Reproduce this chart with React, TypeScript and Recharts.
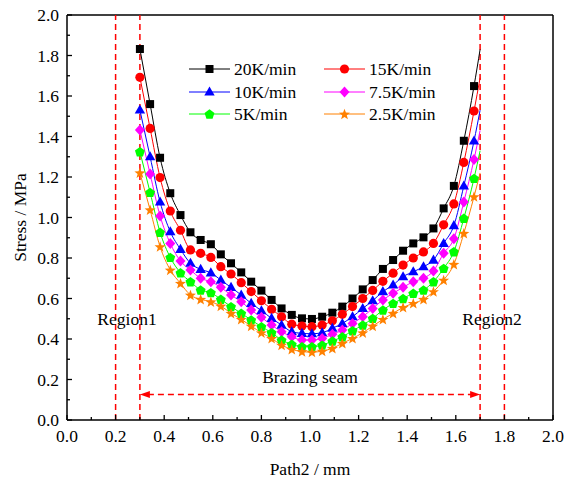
import React from 'react';
import { LineChart, Line, XAxis, YAxis, ReferenceLine, ReferenceDot, Legend, Label } from 'recharts';

const pathX = [0.3, 0.342, 0.383, 0.425, 0.467, 0.508, 0.55, 0.592, 0.633, 0.675, 0.717, 0.758, 0.8, 0.842, 0.883, 0.925, 0.967, 1.008, 1.05, 1.092, 1.133, 1.175, 1.217, 1.258, 1.3, 1.342, 1.383, 1.425, 1.467, 1.508, 1.55, 1.592, 1.633, 1.675, 1.7];

const s20 = [1.832, 1.56, 1.295, 1.12, 1.012, 0.927, 0.889, 0.868, 0.818, 0.774, 0.729, 0.683, 0.639, 0.593, 0.551, 0.519, 0.502, 0.499, 0.51, 0.53, 0.56, 0.6, 0.645, 0.691, 0.746, 0.79, 0.836, 0.872, 0.902, 0.946, 1.045, 1.156, 1.379, 1.649, 1.83];
const s15 = [1.692, 1.44, 1.197, 1.032, 0.937, 0.84, 0.823, 0.803, 0.757, 0.721, 0.678, 0.634, 0.589, 0.547, 0.51, 0.473, 0.464, 0.461, 0.469, 0.49, 0.522, 0.56, 0.6, 0.64, 0.685, 0.725, 0.765, 0.8, 0.83, 0.872, 0.964, 1.067, 1.272, 1.526, 1.69];
const s10 = [1.531, 1.3, 1.077, 0.93, 0.843, 0.774, 0.744, 0.727, 0.691, 0.655, 0.617, 0.576, 0.54, 0.502, 0.469, 0.436, 0.428, 0.426, 0.431, 0.453, 0.477, 0.51, 0.551, 0.589, 0.634, 0.667, 0.708, 0.732, 0.757, 0.79, 0.872, 0.96, 1.156, 1.378, 1.53];
const s75 = [1.432, 1.215, 1.008, 0.872, 0.785, 0.741, 0.7, 0.683, 0.655, 0.617, 0.584, 0.543, 0.507, 0.469, 0.436, 0.411, 0.395, 0.395, 0.403, 0.423, 0.444, 0.477, 0.51, 0.551, 0.593, 0.626, 0.655, 0.683, 0.7, 0.736, 0.823, 0.895, 1.077, 1.287, 1.43];
const s5 = [1.325, 1.124, 0.927, 0.803, 0.727, 0.683, 0.642, 0.629, 0.596, 0.56, 0.527, 0.494, 0.461, 0.431, 0.395, 0.374, 0.362, 0.362, 0.37, 0.39, 0.411, 0.441, 0.469, 0.502, 0.543, 0.576, 0.6, 0.626, 0.642, 0.683, 0.749, 0.831, 0.996, 1.193, 1.33];
const s25 = [1.221, 1.038, 0.856, 0.741, 0.675, 0.617, 0.596, 0.584, 0.563, 0.527, 0.497, 0.464, 0.431, 0.403, 0.37, 0.349, 0.338, 0.335, 0.34, 0.354, 0.379, 0.403, 0.431, 0.464, 0.497, 0.527, 0.556, 0.576, 0.596, 0.634, 0.691, 0.769, 0.922, 1.103, 1.22];

const seriesNames = ['20K/min', '15K/min', '10K/min', '7.5K/min', '5K/min', '2.5K/min'];
const xTicks = [0, 0.1, 0.2, 0.3, 0.4, 0.5, 0.6, 0.7, 0.8, 0.9, 1.0, 1.1, 1.2, 1.3, 1.4, 1.5, 1.6, 1.7, 1.8, 1.9, 2.0];
const yTicks = [0, 0.1, 0.2, 0.3, 0.4, 0.5, 0.6, 0.7, 0.8, 0.9, 1.0, 1.1, 1.2, 1.3, 1.4, 1.5, 1.6, 1.7, 1.8, 1.9, 2.0];
const regionLines = [0.2, 0.3, 1.7, 1.8];

const FONT = '"Liberation Serif", "Times New Roman", serif';
const FS = 17.5;

const SERIES = [
  { key: 's20', name: seriesNames[0], color: '#000000', shape: 'square', values: s20 },
  { key: 's15', name: seriesNames[1], color: '#ff0000', shape: 'circle', values: s15 },
  { key: 's10', name: seriesNames[2], color: '#0000ff', shape: 'triangle', values: s10 },
  { key: 's75', name: seriesNames[3], color: '#ff00ff', shape: 'diamond', values: s75 },
  { key: 's5', name: seriesNames[4], color: '#00ff00', shape: 'pentagon', values: s5 },
  { key: 's25', name: seriesNames[5], color: '#ff8000', shape: 'star', values: s25 },
];

const data = pathX.map((x, i) => {
  const row: any = { x };
  SERIES.forEach((s) => { row[s.key] = s.values[i]; });
  return row;
});

function polyPoints(cx: number, cy: number, n: number, rOuter: number, rInner?: number) {
  const pts: string[] = [];
  const total = rInner ? n * 2 : n;
  for (let i = 0; i < total; i++) {
    const r = rInner ? (i % 2 === 0 ? rOuter : rInner) : rOuter;
    const a = -Math.PI / 2 + (i * 2 * Math.PI) / total;
    pts.push(`${cx + r * Math.cos(a)},${cy + r * Math.sin(a)}`);
  }
  return pts.join(' ');
}

function Marker({ cx, cy, shape, color }: { cx: number; cy: number; shape: string; color: string }) {
  switch (shape) {
    case 'square':
      return <rect x={cx - 4} y={cy - 4} width={8} height={8} fill={color} />;
    case 'circle':
      return <circle cx={cx} cy={cy} r={4.6} fill={color} />;
    case 'triangle':
      return <polygon points={`${cx},${cy - 5.5} ${cx + 5.2},${cy + 3.6} ${cx - 5.2},${cy + 3.6}`} fill={color} />;
    case 'diamond':
      return <polygon points={`${cx},${cy - 5.5} ${cx + 5},${cy} ${cx},${cy + 5.5} ${cx - 5},${cy}`} fill={color} />;
    case 'pentagon':
      return <polygon points={polyPoints(cx, cy + 0.5, 5, 5.2)} fill={color} />;
    case 'star':
    default:
      return <polygon points={polyPoints(cx, cy + 0.5, 5, 5.8, 2.4)} fill={color} />;
  }
}

const makeDot = (shape: string, color: string) => (props: any) => {
  const { cx, cy, index } = props;
  if (cx == null || cy == null || index === pathX.length - 1) return <g key={`${shape}-${index}`} />;
  return (
    <g key={`${shape}-${index}`}>
      <Marker cx={cx} cy={cy} shape={shape} color={color} />
    </g>
  );
};

const XTick = (props: any) => {
  const { x, y, payload } = props;
  const v = payload.value as number;
  const major = Math.round(v * 10) % 2 === 0;
  return (
    <g>
      <line x1={x} x2={x} y1={y} y2={y - (major ? 5 : 3)} stroke="#000" strokeWidth={1.3} />
      {major && (
        <text x={x} y={y + 22} textAnchor="middle" fontFamily={FONT} fontSize={FS} fill="#000">
          {v.toFixed(1)}
        </text>
      )}
    </g>
  );
};

const YTick = (props: any) => {
  const { x, y, payload } = props;
  const v = payload.value as number;
  const major = Math.round(v * 10) % 2 === 0;
  return (
    <g>
      <line x1={x} x2={x + (major ? 5 : 3)} y1={y} y2={y} stroke="#000" strokeWidth={1.3} />
      {major && (
        <text x={x - 8} y={y + 6} textAnchor="end" fontFamily={FONT} fontSize={FS} fill="#000">
          {v.toFixed(1)}
        </text>
      )}
    </g>
  );
};

const LegendContent = () => (
  <div
    style={{
      display: 'grid',
      gridTemplateColumns: '135px 135px',
      fontFamily: FONT,
      fontSize: FS,
      color: '#000',
      lineHeight: '22.5px',
    }}
  >
    {SERIES.map((s) => (
      <div key={s.key} style={{ display: 'flex', alignItems: 'center', height: 22.5 }}>
        <svg width={41} height={16} style={{ display: 'block' }}>
          <line x1={0} y1={8} x2={41} y2={8} stroke={s.color} strokeWidth={1} />
          <Marker cx={20.5} cy={8} shape={s.shape} color={s.color} />
        </svg>
        <span style={{ marginLeft: 4, whiteSpace: 'nowrap' }}>{s.name}</span>
      </div>
    ))}
  </div>
);

const ArrowShape = (props: any) => {
  const { x1, y1, x2, y2 } = props;
  const yy = (y1 + y2) / 2;
  const left = Math.min(x1, x2);
  const right = Math.max(x1, x2);
  return (
    <g>
      <line x1={left + 8} y1={yy} x2={right - 8} y2={yy} stroke="#ff0000" strokeWidth={1.5} strokeDasharray="6 4" />
      <polygon points={`${left},${yy} ${left + 10},${yy - 3.5} ${left + 10},${yy + 3.5}`} fill="#ff0000" />
      <polygon points={`${right},${yy} ${right - 10},${yy - 3.5} ${right - 10},${yy + 3.5}`} fill="#ff0000" />
    </g>
  );
};

const textShape = (label: string) => (props: any) => (
  <text x={props.cx} y={props.cy} textAnchor="middle" fontFamily={FONT} fontSize={FS} fill="#000">
    {label}
  </text>
);

export default function App() {
  return (
    <div style={{ position: 'absolute', left: 0, top: 0, background: '#fff' }}>
      <LineChart width={566} height={479} data={data} margin={{ top: 15, right: 13, left: 7, bottom: 29 }}>
        <XAxis
          dataKey="x"
          type="number"
          domain={[0, 2]}
          ticks={xTicks}
          interval={0}
          tickLine={false}
          tickSize={0}
          tickMargin={0}
          height={30}
          axisLine={{ stroke: '#000', strokeWidth: 1.5 }}
          tick={<XTick />}
        >
          <Label
            content={(p: any) => {
              const vb = p.viewBox;
              return (
                <text x={vb.x + vb.width / 2} y={vb.y + 54.5} textAnchor="middle" fontFamily={FONT} fontSize={FS} fill="#000">
                  Path2 / mm
                </text>
              );
            }}
          />
        </XAxis>
        <YAxis
          type="number"
          domain={[0, 2]}
          ticks={yTicks}
          interval={0}
          tickLine={false}
          tickSize={0}
          tickMargin={0}
          width={60}
          axisLine={{ stroke: '#000', strokeWidth: 1.5 }}
          tick={<YTick />}
        >
          <Label
            content={(p: any) => {
              const vb = p.viewBox;
              const cx = vb.x + 13;
              const cy = vb.y + vb.height / 2;
              return (
                <text x={cx} y={cy + 6} transform={`rotate(-90 ${cx} ${cy})`} textAnchor="middle" fontFamily={FONT} fontSize={FS} fill="#000">
                  Stress / MPa
                </text>
              );
            }}
          />
        </YAxis>
        <ReferenceLine y={2} stroke="#000" strokeWidth={1.5} />
        <ReferenceLine x={2} stroke="#000" strokeWidth={1.5} />
        {regionLines.map((v) => (
          <ReferenceLine key={v} x={v} stroke="#ff0000" strokeWidth={1.5} strokeDasharray="6 4" />
        ))}
        <ReferenceLine
          segment={[{ x: 0.3, y: 0.126 }, { x: 1.7, y: 0.126 }]}
          stroke="#ff0000"
          shape={ArrowShape}
        />
        <ReferenceDot x={0.247} y={0.469} r={0} shape={textShape('Region1')} />
        <ReferenceDot x={1.749} y={0.469} r={0} shape={textShape('Region2')} />
        <ReferenceDot x={1.0} y={0.183} r={0} shape={textShape('Brazing seam')} />
        {SERIES.map((s) => (
          <Line
            key={s.key}
            dataKey={s.key}
            name={s.name}
            type="monotone"
            stroke={s.color}
            strokeWidth={1}
            dot={makeDot(s.shape, s.color)}
            activeDot={false}
            isAnimationActive={false}
          />
        ))}
        <Legend
          layout="horizontal"
          verticalAlign="middle"
          align="center"
          content={LegendContent}
          wrapperStyle={{ position: 'absolute', left: 189, top: 58, width: 270 }}
        />
      </LineChart>
    </div>
  );
}
